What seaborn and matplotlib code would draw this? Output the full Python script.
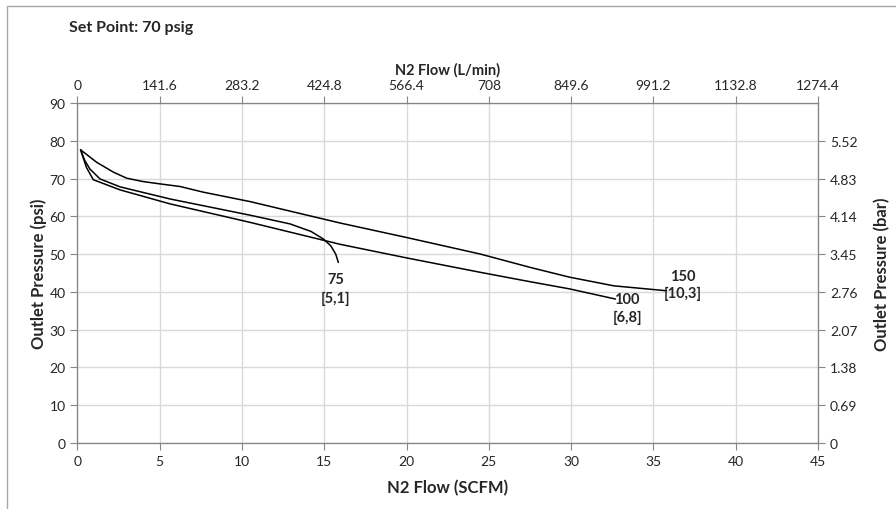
#!/usr/bin/env python3
# -*- coding: utf-8 -*-
"""
plot.py

Purpose:
    Regulator flow curves, outlet pressure vs N2 flow (set point 70 psig)
"""
###########################################################
### Imports
import pandas as pd
import seaborn as sns
import matplotlib.pyplot as plt
from matplotlib.lines import Line2D

###########################################################
### Data
flow_150 = [0.2, 1.18, 2.19, 3.0, 4.0, 5.0, 6.24, 7.65, 10.5, 13.0, 16.0, 20.0,
            24.5, 27.5, 29.9, 32.6, 35.8]
psi_150 = [77.6, 74.3, 71.7, 70.1, 69.2, 68.6, 67.9, 66.4, 63.9, 61.3, 58.2, 54.4,
           50.0, 46.5, 43.9, 41.6, 40.3]

flow_75 = [0.2, 0.45, 0.77, 1.38, 2.6, 5.63, 10.5, 12.92, 14.2, 14.95, 15.4, 15.7, 15.86]
psi_75 = [77.6, 74.8, 72.5, 69.9, 67.8, 64.6, 60.3, 58.0, 56.0, 54.0, 52.2, 50.0, 47.8]

flow_100 = [0.2, 0.55, 0.97, 2.6, 5.63, 10.5, 15.96, 20.0, 24.46, 27.5, 29.9, 32.7]
psi_100 = [77.6, 73.0, 69.7, 67.0, 63.3, 58.4, 52.6, 49.0, 45.2, 42.7, 40.8, 38.1]

# curve labels: (name, code, x, y of name, y of code)
curve_labels = [("75", "[5,1]", 15.72, 43.4, 38.4),
                ("100", "[6,8]", 33.4, 38.2, 33.3),
                ("150", "[10,3]", 36.8, 44.3, 39.7)]

scfm_ticks = list(range(0, 50, 5))
psi_ticks = list(range(0, 100, 10))
bar_ticks_psi = list(range(0, 90, 10))   # right axis stops at 80 psi
LPM_PER_SCFM = 28.32
BAR_PER_PSI = 0.069


###########################################################
### main
def main():
    sns.set_style("white")
    plt.rcParams['font.family'] = ['Lato', 'DejaVu Sans']

    fig = plt.figure(figsize=(8.96, 5.10), dpi=100)
    ax = fig.add_axes([77.3 / 896, 1 - 444 / 510, (818 - 77.3) / 896, 340 / 510])

    spine_c = '#868686'
    grid_c = '#d9d9d9'

    for x, y in [(flow_75, psi_75), (flow_100, psi_100), (flow_150, psi_150)]:
        df = pd.DataFrame({'flow': x, 'psi': y})
        sns.lineplot(data=df, x='flow', y='psi', sort=False, color='black',
                     lw=1.1, ax=ax)

    ax.set_xlim(0, 45)
    ax.set_ylim(0, 90)
    ax.set_xticks(scfm_ticks)
    ax.set_yticks(psi_ticks)
    ax.grid(True, color=grid_c, lw=1)
    ax.set_axisbelow(True)
    ax.set_xlabel('N2 Flow (SCFM)', fontsize=12, fontweight='bold', labelpad=9)
    ax.set_ylabel('Outlet Pressure (psi)', fontsize=12, fontweight='bold', labelpad=2)
    ax.tick_params(axis='both', labelsize=10, color=spine_c, length=5,
                   direction='out', bottom=True, left=True, labelcolor='#262626')
    for s in ax.spines.values():
        s.set_color(spine_c)

    # top axis in L/min
    ax_top = ax.twiny()
    ax_top.set_xlim(0, 45 * LPM_PER_SCFM)
    lpm = [round(v * LPM_PER_SCFM, 1) for v in scfm_ticks]
    ax_top.set_xticks(lpm)
    ax_top.set_xticklabels([f"{v:g}" for v in lpm])
    ax_top.set_xlabel('N2 Flow (L/min)', fontsize=10.5, fontweight='bold', labelpad=4)
    ax_top.tick_params(axis='x', labelsize=10, color=spine_c, length=5,
                       direction='out', top=True, labelcolor='#262626')

    # right axis in bar
    ax_r = ax.twinx()
    ax_r.set_ylim(0, 90)
    ax_r.set_yticks(bar_ticks_psi)
    ax_r.set_yticklabels([f"{round(v * BAR_PER_PSI, 2):g}" for v in bar_ticks_psi])
    ax_r.set_ylabel('Outlet Pressure (bar)', fontsize=12, fontweight='bold', labelpad=12)
    ax_r.tick_params(axis='y', labelsize=10, color=spine_c, length=5,
                     direction='out', right=True, labelcolor='#262626')
    for a in (ax_top, ax_r):
        for s in a.spines.values():
            s.set_color(spine_c)
        a.grid(False)

    for name, code, x, y1, y2 in curve_labels:
        ax.text(x, y1, name, ha='center', va='center', fontsize=10.5, fontweight='bold')
        ax.text(x, y2, code, ha='center', va='center', fontsize=10.5, fontweight='bold')

    fig.text(69 / 896, 1 - 28 / 510, 'Set Point: 70 psig', ha='left', va='center',
             fontsize=11.5, fontweight='bold')

    # chart area frame (cropped at right and bottom)
    fx, fy = 7 / 896, 1 - 7 / 510
    fig.add_artist(Line2D([fx, fx], [0, fy], color='#a6a6a6', lw=1))
    fig.add_artist(Line2D([fx, 1], [fy, fy], color='#a6a6a6', lw=1))

    fig.savefig('out.png', dpi=100)


###########################################################
### start main
if __name__ == "__main__":
    main()
